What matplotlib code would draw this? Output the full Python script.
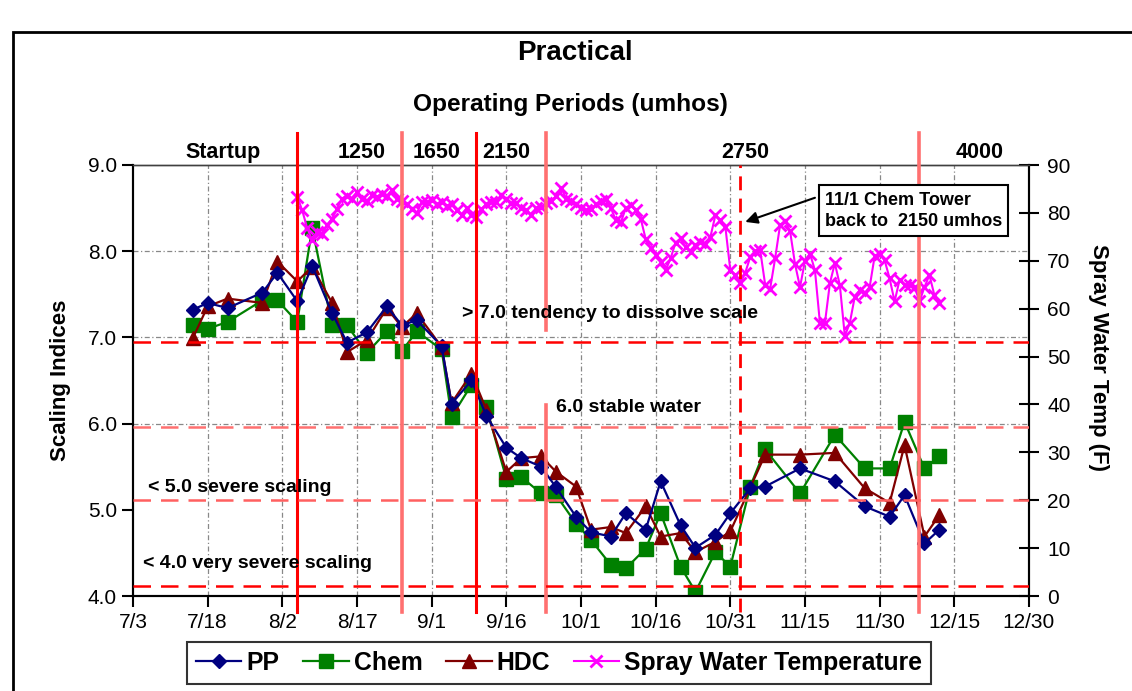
import matplotlib
matplotlib.use("Agg")
import matplotlib.pyplot as plt
import matplotlib.dates as mdates
from matplotlib.ticker import FuncFormatter, MultipleLocator
from matplotlib.patches import Rectangle
from matplotlib.lines import Line2D
from matplotlib.transforms import blended_transform_factory
import numpy as np
from datetime import datetime

YEAR = 2005

# ---------------- data ----------------
sample_dates = ["7/15", "7/18", "7/22", "7/29", "8/1", "8/5", "8/8", "8/12", "8/15", "8/19",
                "8/23", "8/26", "8/29", "9/3", "9/5", "9/9", "9/12", "9/16", "9/19", "9/23",
                "9/26", "9/30", "10/3", "10/7", "10/10", "10/14", "10/17", "10/21", "10/24", "10/28",
                "10/31", "11/4", "11/7", "11/14", "11/21", "11/27", "12/2", "12/5", "12/9", "12/12"]
pp = [7.32, 7.40, 7.34, 7.52, 7.75, 7.42, 7.83, 7.28, 6.94, 7.06,
      7.36, 7.14, 7.20, 6.90, 6.23, 6.50, 6.09, 5.72, 5.60, 5.50,
      5.26, 4.92, 4.74, 4.69, 4.96, 4.77, 5.33, 4.82, 4.56, 4.71,
      4.96, 5.25, 5.27, 5.48, 5.33, 5.04, 4.92, 5.17, 4.61, 4.77]
chem = [7.14, 7.10, 7.18, 7.43, 7.43, 7.18, 8.27, 7.14, 7.14, 6.82,
        7.07, 6.84, 7.07, 6.86, 6.08, 6.45, 6.19, 5.36, 5.38, 5.19,
        5.17, 4.84, 4.65, 4.36, 4.32, 4.55, 4.96, 4.34, 4.05, 4.51,
        4.34, 5.27, 5.70, 5.19, 5.87, 5.48, 5.48, 6.02, 5.48, 5.62]
hdc = [6.99, 7.36, 7.45, 7.40, 7.88, 7.65, 7.82, 7.40, 6.83, 6.97,
       7.34, 7.12, 7.28, 6.89, 6.24, 6.58, 6.16, 5.44, 5.60, 5.62,
       5.44, 5.27, 4.77, 4.80, 4.73, 5.04, 4.69, 4.73, 4.51, 4.63,
       4.75, np.nan, 5.64, 5.64, 5.66, 5.25, 5.08, 5.75, 4.69, 4.94]

# daily spray water temperature (F), starting 8/5
temp_start = "8/5"
spray_temp = [83.4, 80.5, 76.8, 74.3, 76.0, 75.5, 77.5, 78.8, 80.9, 83.0,
              83.6, 83.0, 84.4, 83.0, 82.5, 83.7, 83.4, 84.0, 83.5, 84.8,
              83.0, 82.5, 81.8, 80.9, 79.9, 82.2, 82.3, 82.7, 81.8, 82.3,
              81.5, 81.9, 80.5, 79.5, 81.0, 79.5, 79.2, 80.8, 81.8, 82.3,
              82.3, 83.7, 83.0, 82.0, 82.0, 81.0, 80.6, 79.5, 81.0, 81.3,
              82.0, 82.5, 83.5, 85.3, 83.0, 82.5, 81.8, 81.0, 80.5, 80.8,
              81.8, 82.5, 83.0, 81.0, 78.5, 78.0, 81.0, 81.6, 80.5, 78.8,
              74.5, 72.6, 71.3, 69.8, 68.0, 70.5, 73.8, 74.7, 72.8, 71.9,
              73.3, 74.0, 73.6, 75.0, 79.5, 78.5, 77.1, 68.0, 67.0, 65.3,
              67.5, 70.8, 72.0, 72.2, 65.0, 64.2, 70.5, 77.5, 78.3, 76.2,
              69.3, 64.5, 70.0, 71.5, 68.0, 57.0, 57.0, 65.3, 69.5, 64.9,
              54.3, 57.0, 62.5, 63.9, 63.2, 64.6, 71.0, 71.5, 70.1, 66.3,
              61.5, 66.0, 64.9, 64.9, 64.6, 61.5, 64.5, 67.0, 62.8, 61.1]

period_labels = ["Startup", "1250", "1650", "2150", "2750", "4000"]
period_label_dates = ["7/21", "8/18", "9/2", "9/16", "11/3", "12/20"]
period_lines = ["8/5", "8/26", "9/10", "9/24", "12/8"]
period_line_styles = ["strong", "light", "strong", "light", "light"]
chem_tower_date = "11/2"
limit_levels = [6.95, 5.96, 5.11, 4.12]
limit_colors = ["#FF0000", "#FF7070", "#FF6060", "#FF0000"]
grid_levels = [6, 7, 8]
x_start, x_end = "7/3", "12/30"


def d(s):
    m, dd = s.split("/")
    return mdates.date2num(datetime(YEAR, int(m), int(dd)))


dates = np.array([d(s) for s in sample_dates])
temp_dates = d(temp_start) + np.arange(len(spray_temp))

plt.rcParams['font.family'] = ['Liberation Sans', 'DejaVu Sans']

fig = plt.figure(figsize=(11.32, 6.91), dpi=100)
ax = fig.add_axes([133 / 1132, 1 - 596 / 691, (1029 - 133) / 1132, (596 - 165) / 691])
ax2 = ax.twinx()


def plot_series(vals, color, marker, ms, label):
    arr = np.array(vals, dtype=float)
    mask = ~np.isnan(arr)
    return ax.plot(dates[mask], arr[mask], color=color, marker=marker, ms=ms, lw=1.6,
                   mec=color, mfc=color, label=label, zorder=3)[0]


l_chem = plot_series(chem, "#008000", "s", 9.5, "Chem")
l_hdc = plot_series(hdc, "#800000", "^", 9.5, "HDC")
l_pp = plot_series(pp, "#000080", "D", 7, "PP")
l_t = ax2.plot(temp_dates, spray_temp, color="#FF00FF", marker="x", ms=8, mew=2,
               lw=1.5, label="Spray Water Temperature", zorder=3)[0]

ax.set_xlim(d(x_start), d(x_end))
ax.set_ylim(4, 9)
ax2.set_ylim(0, 90)
xticks = [d(x_start) + 15 * i for i in range(13)]
ax.set_xticks(xticks)
ax.xaxis.set_major_formatter(FuncFormatter(
    lambda v, p: f"{mdates.num2date(v).month}/{mdates.num2date(v).day}"))
ax.yaxis.set_major_locator(MultipleLocator(1))
ax.yaxis.set_major_formatter(FuncFormatter(lambda v, p: f"{v:.1f}"))
ax2.yaxis.set_major_locator(MultipleLocator(10))

ax.tick_params(axis='both', labelsize=15, direction='out', length=8, width=1.5)
ax.tick_params(axis='x', pad=4)
ax2.tick_params(axis='y', labelsize=15, direction='inout', length=14, width=1.5, pad=6)

for a in (ax, ax2):
    a.spines['top'].set_color('#404040')
    a.spines['top'].set_linewidth(1.0)
    a.spines['left'].set_linewidth(1.5)
    a.spines['bottom'].set_linewidth(1.5)
    a.spines['right'].set_linewidth(1.5)

# gridlines (vertical at every date tick, horizontal at 6, 7, 8)
grid_ls = (0, (4, 2, 1, 2))
for xt in xticks[1:-1]:
    ax.axvline(xt, color='#888888', lw=0.9, ls=grid_ls, zorder=1)
for gl in grid_levels:
    ax.axhline(gl, color='#888888', lw=0.9, ls=grid_ls, zorder=1)

ax.set_ylabel("Scaling Indices", fontsize=16, fontweight='bold', labelpad=12)
ax2.set_ylabel("Spray Water Temp (F)", fontsize=16, fontweight='bold', rotation=270,
               va='center', ha='center')
ax2.yaxis.set_label_coords((1099 - 133) / 896, (596 - 357) / 431)

# red reference lines (drawn on top)
xtr = blended_transform_factory(ax2.transData, ax2.transAxes)
for s, st in zip(period_lines, period_line_styles):
    col = "#FF0000" if st == "strong" else "#FF7070"
    lw = 2.2 if st == "strong" else 2.6
    if s == "9/24":
        segs = [(-0.037, 0.443), (0.617, 1.074)]
    else:
        segs = [(-0.037, 1.074)]
    for y0, y1 in segs:
        ax2.add_line(Line2D([d(s), d(s)], [y0, y1], transform=xtr, color=col,
                            lw=lw, clip_on=False, zorder=5))
ax2.add_line(Line2D([d(chem_tower_date)] * 2, [-0.037, 1.0], transform=xtr, color="#FF0000",
                    lw=2, ls=(0, (5, 3)), clip_on=False, zorder=5))
ytr = blended_transform_factory(ax2.transAxes, ax.transData)
for lv, col in zip(limit_levels, limit_colors):
    ax2.add_line(Line2D([0, 1], [lv, lv], transform=ytr, color=col, lw=1.8,
                        ls=(0, (7, 4)), zorder=5))

# period labels
ltr = blended_transform_factory(ax.transData, ax.transAxes)
for lab, s in zip(period_labels, period_label_dates):
    ax.text(d(s), 1.030, lab, transform=ltr, ha='center', va='center',
            fontsize=15.5, fontweight='bold')

# annotations
ann_kw = dict(transform=ax.transData, fontsize=14, fontweight='bold', va='center', ha='left', zorder=6)
ax2.text(d("9/7"), 7.28, "> 7.0 tendency to dissolve scale", **ann_kw)
ax2.text(d("9/26"), 6.19, "6.0 stable water", **ann_kw)
ax2.text(d("7/6"), 5.26, "< 5.0 severe scaling", **ann_kw)
ax2.text(d("7/5"), 4.38, "< 4.0 very severe scaling", **ann_kw)

ax2.text(d("11/19"), 8.47, "11/1 Chem Tower\nback to  2150 umhos", transform=ax.transData,
         fontsize=13, fontweight='bold', va='center', ha='left', linespacing=1.3,
         bbox=dict(boxstyle='square,pad=0.35', fc='white', ec='black', lw=1.5), zorder=7)
ax2.annotate("", xy=(d("11/3"), 8.34), xycoords=ax.transData,
             xytext=(d("11/17"), 8.62), textcoords=ax.transData,
             arrowprops=dict(arrowstyle='-|>', color='black', lw=1.5, mutation_scale=18,
                             shrinkA=0, shrinkB=0),
             zorder=7)

# titles
fig.text(575 / 1132, 1 - 53 / 691, "Practical", ha='center', va='center', fontsize=20, fontweight='bold')
fig.text(570 / 1132, 1 - 104 / 691, "Operating Periods (umhos)", ha='center', va='center',
         fontsize=17.6, fontweight='bold')

# legend
leg = fig.legend(handles=[l_pp, l_chem, l_hdc, l_t], loc='center',
                 bbox_to_anchor=(559 / 1132, 1 - 663 / 691),
                 ncol=4, frameon=True, fontsize=17.8, fancybox=False, edgecolor='black',
                 handlelength=1.85, columnspacing=0.95, handletextpad=0.2, borderpad=0.35,
                 borderaxespad=0)
leg.get_frame().set_linewidth(1.5)
for t in leg.get_texts():
    t.set_fontweight('bold')

# outer chart border
fig.add_artist(Rectangle((13 / 1132, -0.1), 1.2, 1.1 - 32 / 691, transform=fig.transFigure,
                         fill=False, ec='black', lw=2))

fig.savefig("out.png", dpi=100)
